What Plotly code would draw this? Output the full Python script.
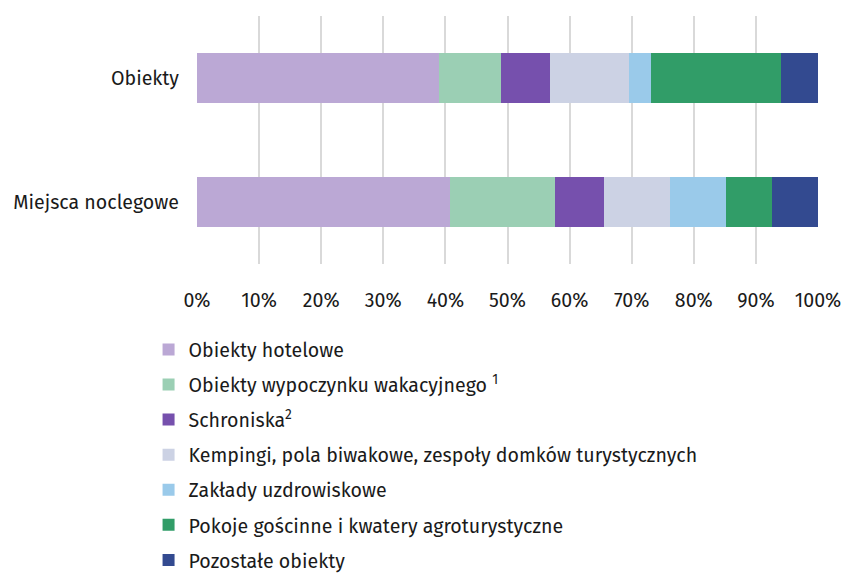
import plotly.graph_objects as go

categories = ["Obiekty", "Miejsca noclegowe"]
series_names = [
    "Obiekty hotelowe",
    "Obiekty wypoczynku wakacyjnego <sup>1</sup>",
    "Schroniska<sup>2</sup>",
    "Kempingi, pola biwakowe, zespoły domków turystycznych",
    "Zakłady uzdrowiskowe",
    "Pokoje gościnne i kwatery agroturystyczne",
    "Pozostałe obiekty",
]
# percentage shares [Obiekty, Miejsca noclegowe]
values = [
    [39.0, 40.7],
    [10.0, 17.0],
    [7.8, 7.9],
    [12.7, 10.5],
    [3.6, 9.1],
    [20.9, 7.4],
    [6.0, 7.4],
]
colors = ["#BBA8D5", "#9BCFB4", "#7650AD", "#CCD2E4", "#9ACAEA", "#319D68", "#334A90"]
x_ticks = [0, 10, 20, 30, 40, 50, 60, 70, 80, 90, 100]
x_tick_labels = [f"{t}%" for t in x_ticks]

font_family = "Fira Sans, Open Sans, Noto Sans, sans-serif"
fs = 19.6

fig = go.Figure()
for i, (name, vals, col) in enumerate(zip(series_names, values, colors)):
    fig.add_trace(go.Bar(
        y=categories, x=vals, name=name, orientation="h",
        marker=dict(color=col, line=dict(width=0)),
        width=0.4, legendgroup=f"g{i}",
        hoverinfo="x+name",
    ))

fig.update_layout(
    barmode="stack",
    width=844, height=574,
    margin=dict(l=197, r=26, t=16, b=310, autoexpand=False),
    paper_bgcolor="white", plot_bgcolor="white",
    font=dict(family=font_family, size=fs, color="#1a1a1a"),
    showlegend=True,
    legend=dict(
        orientation="v", x=-0.078, xanchor="left", y=-0.267, yanchor="top",
        traceorder="grouped", tracegroupgap=6.6,
        font=dict(size=fs, color="#1a1a1a"), itemwidth=30,
        bgcolor="rgba(0,0,0,0)",
    ),
    xaxis=dict(
        range=[0, 100], tickvals=x_ticks, ticktext=x_tick_labels,
        showgrid=True, gridcolor="#D9D9D9", gridwidth=1.5,
        zeroline=False, showline=False, ticks="",
        ticklabelstandoff=22, fixedrange=True, automargin=False,
        tickfont=dict(size=fs),
    ),
    yaxis=dict(
        categoryorder="array", categoryarray=categories, autorange="reversed",
        showgrid=False, zeroline=False, showline=False, ticks="",
        ticklabelstandoff=17, tickfont=dict(size=fs), automargin=False,
    ),
)

fig.write_html(
    "out.html",
    config={"displayModeBar": False},
    post_script="document.body.style.margin='0';document.body.style.overflow='hidden';",
)
